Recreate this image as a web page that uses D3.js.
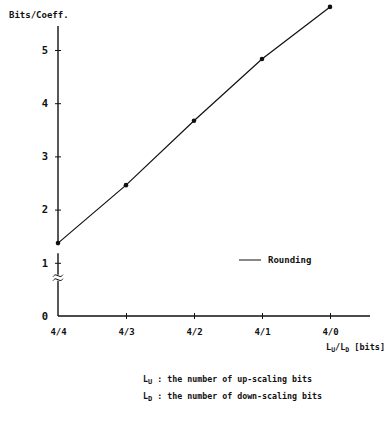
<!DOCTYPE html>
<html>
<head>
<meta charset="utf-8">
<script src="https://cdn.jsdelivr.net/npm/d3@7"></script>
<style>
  body { margin: 0; background: #fff; }
  svg { display: block; }
  text { font-family: "DejaVu Sans Mono", "Liberation Mono", monospace; font-weight: bold; fill: #111; }
</style>
</head>
<body>
<svg id="chart" width="389" height="421"></svg>
<script>
// data
const categories = ['4/4', '4/3', '4/2', '4/1', '4/0'];
const rounding = [1.37, 2.46, 3.67, 4.83, 5.81];
const yTicks = [0, 1, 2, 3, 4, 5];
const seriesName = 'Rounding';

const svg = d3.select('#chart');

// scales
const x = d3.scalePoint().domain(categories).range([58, 330]);
const y = d3.scaleLinear().domain([0, 5]).range([316, 50]);
const originX = x(categories[0]);

// y axis (ticks as small crosses, domain drawn by hand with a break)
const yAxisG = svg.append('g').attr('transform', `translate(${originX},0)`);
yAxisG.call(d3.axisLeft(y).tickValues(yTicks).tickSize(3).tickFormat(d3.format('d')));
yAxisG.select('.domain').remove();
yAxisG.selectAll('.tick line').attr('x1', -3).attr('x2', 3).attr('stroke', '#111');
yAxisG.selectAll('.tick text')
    .attr('x', -10)
    .style('font-size', '10.5px');
yAxisG.selectAll('.tick').filter(d => d === 0).select('line').remove();

// upper part of the y axis, from the top down to the first point
svg.append('line')
    .attr('x1', originX).attr('x2', originX)
    .attr('y1', y(5.45)).attr('y2', y(rounding[0]))
    .attr('stroke', '#111').attr('stroke-width', 1.4);
// lower part of the y axis
svg.append('line')
    .attr('x1', originX).attr('x2', originX)
    .attr('y1', y(1.18)).attr('y2', y(0))
    .attr('stroke', '#111').attr('stroke-width', 1.4);
// break mark: white gap with two wavy strokes
const by = y(0.72);
svg.append('rect')
    .attr('x', originX - 3).attr('y', by - 3)
    .attr('width', 6).attr('height', 6)
    .attr('fill', '#fff');
const wave = d3.line().curve(d3.curveBasis);
[-2, 2].forEach(off => {
    svg.append('path')
        .attr('d', wave([
            [originX - 5, by + off + 1], [originX - 2.5, by + off - 2],
            [originX + 2.5, by + off + 2], [originX + 5, by + off - 1]
        ]))
        .attr('fill', 'none')
        .attr('stroke', '#111')
        .attr('stroke-width', 1);
});

// x axis
const xAxisG = svg.append('g').attr('transform', `translate(0,${y(0)})`);
xAxisG.call(d3.axisBottom(x).tickSize(3));
xAxisG.select('.domain').remove();
xAxisG.selectAll('.tick line').attr('y1', -3).attr('y2', 3).attr('stroke', '#111');
xAxisG.selectAll('.tick').filter(d => d === categories[0]).select('line').remove();
xAxisG.selectAll('.tick text')
    .attr('y', 13)
    .style('font-size', '9px');
svg.append('line')
    .attr('x1', originX).attr('x2', 370)
    .attr('y1', y(0)).attr('y2', y(0))
    .attr('stroke', '#111').attr('stroke-width', 1.4);

// axis titles
svg.append('text')
    .attr('x', 9).attr('y', 18)
    .style('font-size', '9px')
    .text('Bits/Coeff.');

const xt = svg.append('text')
    .attr('x', 326).attr('y', 350)
    .style('font-size', '8.5px');
xt.append('tspan').text('L');
xt.append('tspan').attr('dy', 2).style('font-size', '6.5px').text('U');
xt.append('tspan').attr('dy', -2).text('/L');
xt.append('tspan').attr('dy', 2).style('font-size', '6.5px').text('D');
xt.append('tspan').attr('dy', -2).text(' [bits]');

// the series
const line = d3.line()
    .x((d, i) => x(categories[i]))
    .y(d => y(d));
svg.append('path')
    .datum(rounding)
    .attr('d', line)
    .attr('fill', 'none')
    .attr('stroke', '#111')
    .attr('stroke-width', 1.2);
svg.append('g')
    .selectAll('circle')
    .data(rounding)
    .join('circle')
    .attr('cx', (d, i) => x(categories[i]))
    .attr('cy', d => y(d))
    .attr('r', 2.3)
    .attr('fill', '#111');

// legend
svg.append('line')
    .attr('x1', 239).attr('x2', 261)
    .attr('y1', 260).attr('y2', 260)
    .attr('stroke', '#111').attr('stroke-width', 1);
svg.append('text')
    .attr('x', 268).attr('y', 263)
    .style('font-size', '9px')
    .text(seriesName);

// footnotes
const notes = [
    ['U', ' : the number of up-scaling bits'],
    ['D', ' : the number of down-scaling bits']
];
notes.forEach((n, i) => {
    const t = svg.append('text')
        .attr('x', 143).attr('y', 382 + i * 17)
        .style('font-size', '8.3px');
    t.append('tspan').text('L');
    t.append('tspan').attr('dy', 2).style('font-size', '7px').text(n[0]);
    t.append('tspan').attr('dy', -2).text(n[1]);
});
</script>
</body>
</html>
